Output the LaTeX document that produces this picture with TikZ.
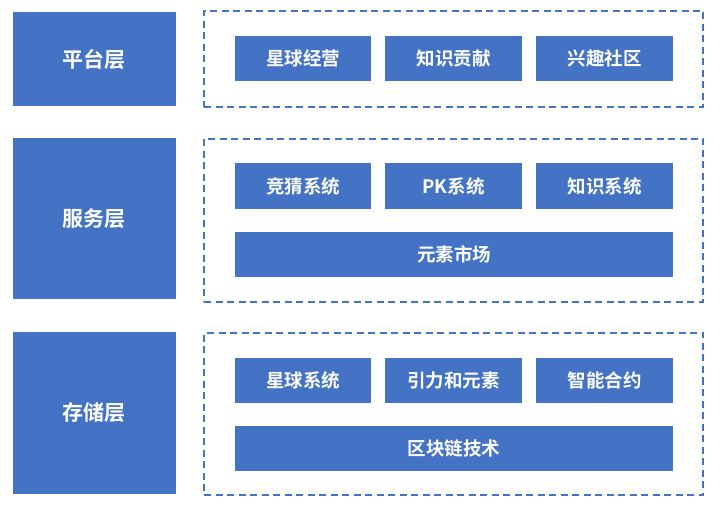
\documentclass[tikz,border=0pt]{standalone}
\usepackage{fontspec}
\newfontfamily\cjk{Noto Sans CJK SC}[BoldFont={Noto Sans CJK SC Bold}]
\definecolor{blu}{HTML}{4472C4}
\tikzset{
  fbox/.style={fill=blu, draw=none, inner sep=0pt, text=white, font=\cjk\bfseries\fontsize{18.5}{21}\selectfont},
  layerbox/.style={fbox, font=\cjk\bfseries\fontsize{21}{24}\selectfont},
  dbox/.style={draw=blu, line width=1.8pt, dash pattern=on 7pt off 4.5pt, inner sep=0pt, fill=none}
}
\newcommand{\rbox}[7]{% style, name, x1, y1, x2, y2, text
  \node[#1, minimum width={#5-#3}, minimum height={#6-#4}] (#2) at ({(#3+#5)/2},{(#4+#6)/2}) {#7};}
\begin{document}
\begin{tikzpicture}[x=1pt,y=-1pt]
\useasboundingbox (0,0) rectangle (724,508);
% layer labels
\rbox{layerbox}{L1}{13}{12}{176}{106}{平台层}
\rbox{layerbox}{L2}{13}{138}{176}{299}{服务层}
\rbox{layerbox}{L3}{13}{332}{176}{494}{存储层}
% dashed containers
\rbox{dbox}{D1}{204}{11}{703}{107}{}
\rbox{dbox}{D2}{204}{139}{703}{302}{}
\rbox{dbox}{D3}{204}{333}{703}{495}{}
% platform layer
\rbox{fbox}{a1}{235}{36}{371}{81}{星球经营}
\rbox{fbox}{a2}{385}{36}{522}{81}{知识贡献}
\rbox{fbox}{a3}{536}{36}{673}{81}{兴趣社区}
% service layer
\rbox{fbox}{b1}{235}{163}{371}{209}{竞猜系统}
\rbox{fbox}{b2}{385}{163}{522}{209}{PK系统}
\rbox{fbox}{b3}{536}{163}{673}{209}{知识系统}
\rbox{fbox}{b4}{235}{232}{673}{277}{元素市场}
% storage layer
\rbox{fbox}{c1}{235}{358}{371}{403}{星球系统}
\rbox{fbox}{c2}{385}{358}{522}{403}{引力和元素}
\rbox{fbox}{c3}{536}{358}{673}{403}{智能合约}
\rbox{fbox}{c4}{235}{426}{673}{471}{区块链技术}
\end{tikzpicture}
\end{document}
